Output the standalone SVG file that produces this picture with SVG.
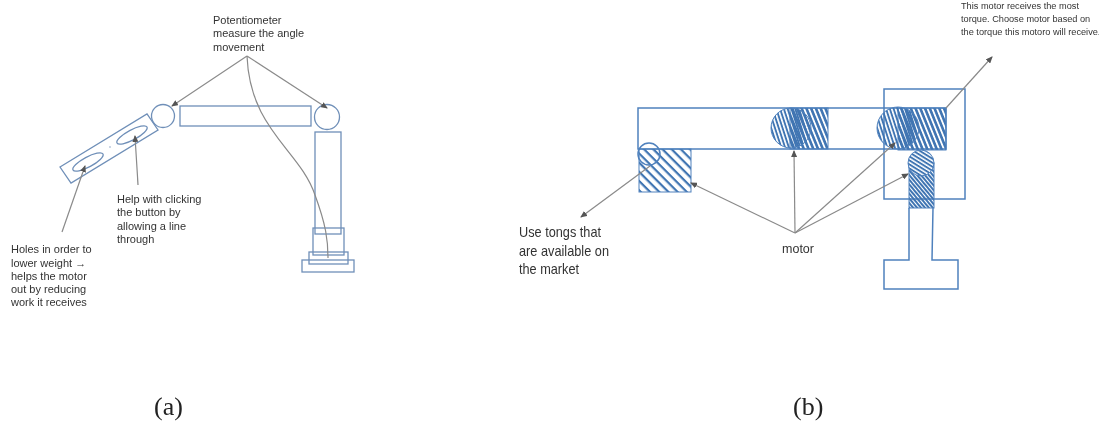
<svg xmlns="http://www.w3.org/2000/svg" width="1099" height="423" viewBox="0 0 1099 423">
<style>
.s{fill:none;stroke:#6f8fb8;stroke-width:1.3}
.b{fill:none;stroke:#4f81bd;stroke-width:1.5}
.a{fill:none;stroke:#8a8a8a;stroke-width:1.2}
.h{fill:url(#hw);stroke:#4f81bd;stroke-width:1}
.t{font-family:"Liberation Sans",Arial,sans-serif;fill:#333}
.l{font-family:"Liberation Serif",serif;font-size:26px;fill:#222}
</style>
<defs>
<pattern id="hw" width="6.5" height="6.5" patternUnits="userSpaceOnUse" patternTransform="rotate(45)"><rect width="6.5" height="2.2" fill="#3f74b2"/></pattern>
<pattern id="hr" width="4.4" height="4.4" patternUnits="userSpaceOnUse" patternTransform="rotate(68)"><rect width="4.4" height="2.6" fill="#3f74b2"/></pattern>
<pattern id="hc" width="3.6" height="3.6" patternUnits="userSpaceOnUse" patternTransform="rotate(72)"><rect width="3.6" height="1.9" fill="#3f74b2"/></pattern>
<pattern id="hl" width="3.4" height="3.4" patternUnits="userSpaceOnUse" patternTransform="rotate(32)"><rect width="3.4" height="1.9" fill="#3f74b2"/></pattern>
<pattern id="hv" width="3" height="3" patternUnits="userSpaceOnUse" patternTransform="rotate(50)"><rect width="3" height="2" fill="#3f74b2"/></pattern>
<marker id="ar" markerWidth="7" markerHeight="6" refX="6" refY="3" orient="auto" markerUnits="userSpaceOnUse"><path d="M0 0L7 3L0 6Z" fill="#555"/></marker>
<filter id="soft" x="0" y="0" width="100%" height="100%"><feGaussianBlur stdDeviation="0.35"/></filter>
</defs>
<rect width="1099" height="423" fill="#fff"/>
<g filter="url(#soft)">
<g id="arm-a">
<path class="s" d="M60 167L147 114L158 130L71 183Z"/>
<ellipse class="s" cx="88" cy="162" rx="17" ry="5" transform="rotate(-28 88 162)"/>
<ellipse class="s" cx="132" cy="135" rx="17" ry="5" transform="rotate(-28 132 135)"/>
<circle cx="110" cy="147" r="0.7" fill="#6f8fb8"/>
<circle class="s" cx="163" cy="116" r="11.5"/>
<rect class="s" x="180" y="106" width="131" height="20"/>
<circle class="s" cx="327" cy="117" r="12.5"/>
<rect class="s" x="315" y="132" width="26" height="102"/>
<rect class="s" x="313" y="228" width="31" height="27"/>
<rect class="s" x="309" y="252" width="39" height="12"/>
<rect class="s" x="302" y="260" width="52" height="12"/>
</g>
<g id="arm-b">
<rect class="b" x="884" y="89" width="81" height="110"/>
<rect class="b" x="638" y="108" width="308" height="41" fill="#fff"/>
<rect class="h" x="639" y="149" width="52" height="43"/>
<circle class="b" cx="649" cy="154" r="11"/>
<rect x="790" y="108" width="38" height="41" fill="url(#hr)" stroke="#4f81bd"/>
<circle cx="791" cy="128" r="20" fill="url(#hc)" stroke="#4f81bd"/>
<rect x="898" y="108" width="48" height="42" fill="url(#hr)" stroke="#4f81bd"/>
<circle cx="898" cy="128" r="21" fill="url(#hc)" stroke="#4f81bd"/>
<rect x="909" y="163" width="25" height="45" fill="url(#hv)" stroke="#4f81bd"/>
<circle cx="921" cy="163" r="13" fill="#fff"/>
<circle cx="921" cy="163" r="13" fill="url(#hl)" stroke="#4f81bd"/>
<path class="b" d="M909 208V260H884V289H958V260H932L933 208"/>
</g>
<g id="connectors">
<path class="a" d="M247 56L172 106" marker-end="url(#ar)"/>
<path class="a" d="M247 56L327 108" marker-end="url(#ar)"/>
<path class="a" d="M247 56C250 130 300 150 315 195C326 225 328 240 328 258"/>
<path class="a" d="M138 185L135 136" marker-end="url(#ar)"/>
<path class="a" d="M62 232L85 166" marker-end="url(#ar)"/>
<path class="a" d="M650 166L581 217" marker-end="url(#ar)"/>
<path class="a" d="M795 233L691 183" marker-end="url(#ar)"/>
<path class="a" d="M795 233L794 151" marker-end="url(#ar)"/>
<path class="a" d="M795 233L895 143" marker-end="url(#ar)"/>
<path class="a" d="M795 233L908 174" marker-end="url(#ar)"/>
<path class="a" d="M946 108L992 57" marker-end="url(#ar)"/>
</g>
<g id="labels">
<text class="t" font-size="11"><tspan x="213" y="24">Potentiometer</tspan><tspan x="213" y="37">measure the angle</tspan><tspan x="213" y="51">movement</tspan></text>
<text class="t" font-size="11"><tspan x="117" y="203">Help with clicking</tspan><tspan x="117" y="216">the button by</tspan><tspan x="117" y="230">allowing a line</tspan><tspan x="117" y="243">through</tspan></text>
<text class="t" font-size="11"><tspan x="11" y="253">Holes in order to</tspan><tspan x="11" y="266.5">lower weight →</tspan><tspan x="11" y="280">helps the motor</tspan><tspan x="11" y="293">out by reducing</tspan><tspan x="11" y="306">work it receives</tspan></text>
<text class="t" font-size="14.5" x="519" y="237" textLength="82" lengthAdjust="spacingAndGlyphs">Use tongs that</text>
<text class="t" font-size="14.5" x="519" y="256" textLength="90" lengthAdjust="spacingAndGlyphs">are available on</text>
<text class="t" font-size="14.5" x="519" y="274" textLength="60" lengthAdjust="spacingAndGlyphs">the market</text>
<text class="t" x="782" y="253" font-size="13.5" textLength="32" lengthAdjust="spacingAndGlyphs">motor</text>
<text class="t" font-size="9.2"><tspan x="961" y="9">This motor receives the most</tspan><tspan x="961" y="22">torque. Choose motor based on</tspan><tspan x="961" y="35">the torque this motoro will receive.</tspan></text>
<text class="l" x="154" y="415">(a)</text>
<text class="l" x="793" y="415">(b)</text>
</g>
</g>
</svg>
